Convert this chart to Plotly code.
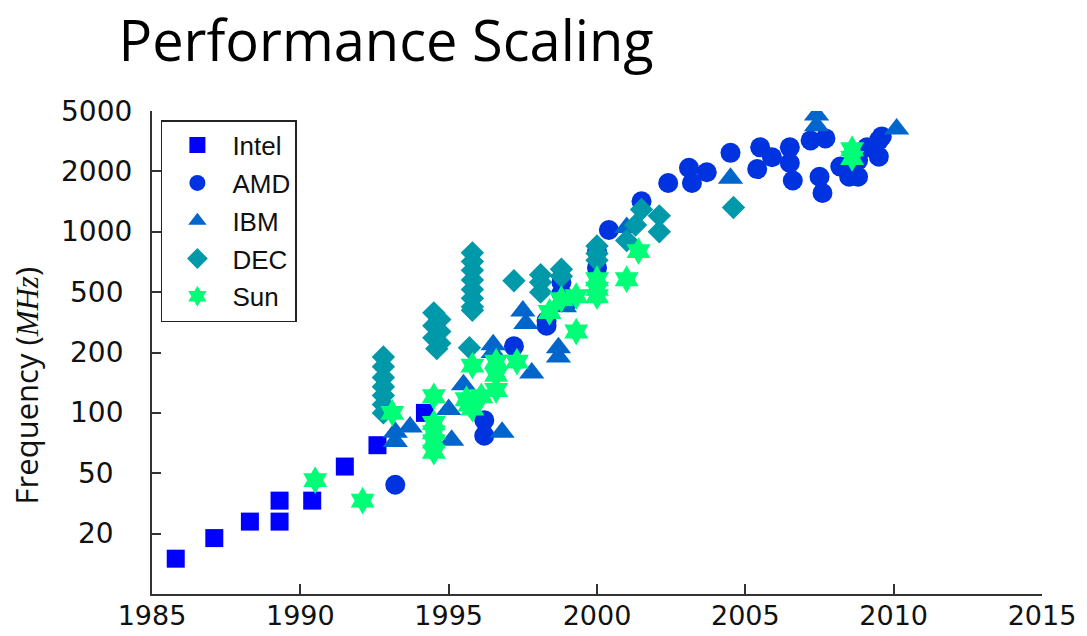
import numpy as np
import plotly.graph_objects as go

# ---------------- data ----------------
tick_values = [10, 20, 50, 100, 200, 500, 1000, 2000, 5000]
tick_labels = ["", "20", "50", "100", "200", "500", "1000", "2000", "5000"]
x_ticks = [1985, 1990, 1995, 2000, 2005, 2010, 2015]

intel_year = [1985.8, 1987.1, 1988.3, 1989.3, 1989.3, 1990.4, 1991.5, 1992.6, 1994.2]
intel_mhz = [15, 19, 24, 24, 33, 33, 54, 69, 100]

amd_year = [1993.2, 1996.2, 1996.2, 1997.2, 1998.3, 1998.3, 1998.8, 1998.8, 1999.0,
            2000.0, 2000.0, 2000.4, 2001.5, 2002.4, 2003.1, 2003.2, 2003.7, 2004.5,
            2005.5, 2005.4, 2005.9, 2006.5, 2006.5, 2006.6, 2007.2, 2007.7, 2007.5,
            2007.6, 2008.2, 2008.5, 2008.8, 2008.8, 2009.1, 2009.5, 2009.5, 2009.6]
amd_mhz = [42, 92, 77, 220, 323, 300, 560, 490, 430,
           800, 660, 1020, 1420, 1750, 2110, 1750, 1980, 2650,
           2880, 2070, 2480, 2880, 2270, 1800, 3200, 3300, 1880,
           1560, 2150, 1880, 2360, 1880, 2880, 3200, 2500, 3400]

ibm_year = [1993.2, 1993.2, 1993.7, 1995.0, 1995.1, 1995.5, 1996.5, 1996.5, 1996.8,
            1997.5, 1997.6, 1997.8, 1998.7, 1998.7, 1998.9, 2001.0, 2004.5, 2007.4,
            2007.4, 2010.1]
ibm_mhz = [80, 72, 85, 104, 73, 138, 225, 200, 80,
           375, 310, 158, 215, 190, 400, 1050, 1850, 4700,
           4000, 3800]

dec_year = [1992.8, 1992.8, 1992.8, 1992.8, 1992.8, 1992.8, 1992.8,
            1994.5, 1994.7, 1994.5, 1994.7, 1994.5, 1994.7, 1994.6,
            1995.8, 1995.8, 1995.8, 1995.8, 1995.8, 1995.8, 1995.8, 1995.8, 1995.7,
            1997.2, 1998.1, 1998.1, 1998.1, 1998.8, 1998.8,
            2000.0, 2000.0, 2000.0, 2001.0, 2001.3, 2001.5, 2002.1, 2002.1, 2004.6]
dec_mhz = [190, 170, 150, 135, 122, 110, 100,
           365, 330, 300, 275, 250, 230, 212,
           785, 710, 642, 575, 515, 455, 400, 380, 215,
           570, 610, 560, 500, 650, 600,
           850, 780, 720, 905, 1080, 1290, 1200, 1000, 1320]

sun_year = [1990.5, 1992.1, 1993.1, 1994.5, 1994.5, 1994.5, 1994.5, 1994.5,
            1995.8, 1995.6, 1995.7, 1995.8, 1996.1, 1996.6, 1996.6, 1996.6,
            1997.3, 1998.4, 1998.8, 1999.3, 1999.3, 2000.0, 2000.0, 2000.0,
            2001.0, 2001.4, 2008.6, 2008.6]
sun_mhz = [45, 33, 100, 121, 89, 80, 72, 64,
           172, 117, 110, 105, 121, 180, 155, 130,
           180, 370, 450, 470, 275, 580, 520, 470,
           580, 800, 2800, 2450]


def to_axis(mhz):
    """Map MHz onto the chart's frequency scale (equal spacing between labelled ticks)."""
    return np.interp(np.log10(mhz), np.log10(tick_values), np.arange(len(tick_values)))


series = [
    ("Intel", intel_year, intel_mhz, "square", 18, "#0000FF"),
    ("AMD", amd_year, amd_mhz, "circle", 20, "#0033E0"),
    ("IBM", ibm_year, ibm_mhz, "triangle-up", 22, "#0066CC"),
    ("DEC", dec_year, dec_mhz, "diamond", 18, "#0099AA"),
    ("Sun", sun_year, sun_mhz, "hexagram", 21, "#00FF77"),
]

fig = go.Figure()
for name, yrs, mhz, sym, size, col in series:
    fig.add_trace(go.Scatter(
        x=yrs, y=to_axis(mhz), mode="markers", name=name, legendgroup=name,
        marker=dict(symbol=sym, size=size, color=col, line=dict(width=0)),
    ))

tick_font = dict(family="DejaVu Sans", size=28, color="#111111")

annotations = []
for i, lab in enumerate(tick_labels):
    if lab:
        annotations.append(dict(
            x=-0.0629, xref="paper", y=i, yref="y", text=lab, showarrow=False,
            xanchor="center", yanchor="middle", font=tick_font,
        ))
annotations.append(dict(
    x=-0.1415, xref="paper", y=0.432, yref="paper",
    text="Frequency (<span style='font-family:Liberation Serif'><i>MHz</i></span>)",
    textangle=-90, showarrow=False, xanchor="center", yanchor="middle",
    font=dict(family="Open Sans", size=31, color="#111111"),
))

fig.update_layout(
    width=1087, height=636,
    paper_bgcolor="white", plot_bgcolor="white",
    margin=dict(l=152, r=45, t=111, b=42, autoexpand=False),
    title=dict(text="Performance Scaling", x=0.109, xanchor="left",
               y=1 - 41 / 636, yanchor="middle", yref="container",
               font=dict(family="Open Sans", size=56, color="#000000")),
    showlegend=True,
    legend=dict(x=0.01, y=0.981, xanchor="left", yanchor="top",
                bgcolor="white", bordercolor="#222222", borderwidth=1.5,
                font=dict(family="Liberation Sans", size=26, color="#111111"),
                itemwidth=60, tracegroupgap=1),
    annotations=annotations,
)
fig.update_xaxes(
    range=[1985, 2015], tickvals=x_ticks, ticks="inside", ticklen=10, tickwidth=1.5,
    tickcolor="#333333", showline=True, linecolor="#333333", linewidth=1.5,
    showgrid=False, zeroline=False, tickfont=dict(family="DejaVu Sans", size=27, color="#111111"),
    automargin=False, ticklabelstandoff=-3,
)
fig.update_yaxes(
    range=[0, 8], tickvals=list(range(1, len(tick_values))), ticktext=[""] * 8,
    ticks="inside", ticklen=9, tickwidth=1.5, tickcolor="#333333",
    showline=True, linecolor="#333333", linewidth=1.5,
    showgrid=False, zeroline=False, showticklabels=False, automargin=False,
)

fig.write_html("out.html", config={"displayModeBar": False},
               post_script="document.body.style.margin='0';")
